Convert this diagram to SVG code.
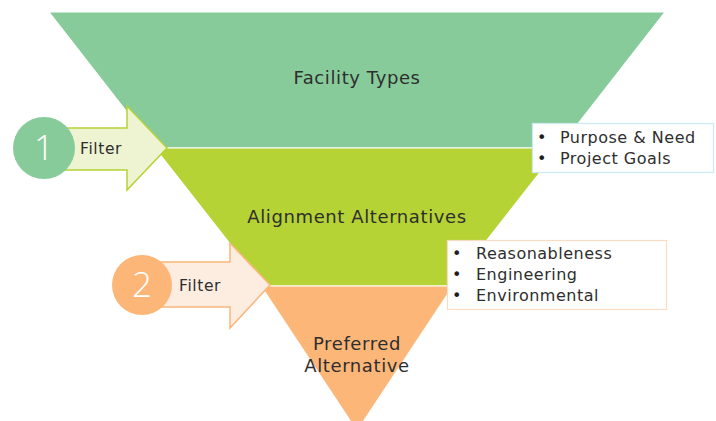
<svg xmlns="http://www.w3.org/2000/svg" width="716" height="421" viewBox="0 0 716 421">
  <style>
    text { font-family: "DejaVu Sans", "Open Sans", sans-serif; fill: #2e2e2e; }
    .band { stroke: #ffffff; stroke-width: 1.2; }
    .lbl { font-size: 18px; letter-spacing: 0.6px; text-anchor: middle; }
    .num { font-family: "Open Sans", "DejaVu Sans", sans-serif; font-size: 35px; fill: #ffffff; text-anchor: middle; font-weight: 300; }
    .flt { font-size: 15.5px; letter-spacing: 0.6px; }
    .item { font-size: 16px; letter-spacing: 0.5px; }
    .dot { font-size: 16px; fill: #1e1e1e; }
  </style>

  <!-- funnel bands -->
  <g id="facility-types">
    <polygon class="band" points="49,12 665,12 559,148 155,148" fill="#88cb9b"/>
    <text class="lbl" x="357" y="84">Facility Types</text>
  </g>
  <g id="alignment-alternatives">
    <polygon class="band" points="155,148 559,148 451,286 263,286" fill="#b5d334"/>
    <text class="lbl" x="357" y="223">Alignment Alternatives</text>
  </g>
  <g id="preferred-alternative">
    <polygon class="band" points="261,286 453,286 357,431" fill="#fbb678"/>
    <text class="lbl" x="357" y="350">Preferred</text>
    <text class="lbl" x="357" y="372">Alternative</text>
  </g>

  <!-- filter arrows pointing into the funnel -->
  <g id="connectors">
    <polygon points="50,128 127,128 127,106 167,148 127,190 127,170 50,170" fill="#eef3d2" stroke="#b5d334" stroke-width="1.5"/>
    <polygon points="150,262 230,262 230,243 270,285 230,328 230,307 150,307" fill="#fdece0" stroke="#fbb678" stroke-width="1.5"/>
  </g>

  <g id="filter-1">
    <circle cx="44" cy="148" r="31" fill="#88cb9b"/>
    <text class="num" x="44" y="160">1</text>
    <text class="flt" x="80" y="154">Filter</text>
  </g>
  <g id="filter-2">
    <circle cx="142" cy="285" r="30" fill="#fbb678"/>
    <text class="num" x="142" y="297">2</text>
    <text class="flt" x="179" y="291">Filter</text>
  </g>

  <!-- criteria boxes -->
  <g id="criteria-1">
    <rect x="532.5" y="123.5" width="181" height="49" fill="#ffffff" stroke="#cde9f2" stroke-width="1.2"/>
    <text class="dot" x="537" y="143">•</text>
    <text class="item" x="560" y="143">Purpose &amp; Need</text>
    <text class="dot" x="537" y="164">•</text>
    <text class="item" x="560" y="164">Project Goals</text>
  </g>
  <g id="criteria-2">
    <rect x="447.5" y="240.5" width="219" height="69" fill="#ffffff" stroke="#fadcc4" stroke-width="1.2"/>
    <text class="dot" x="452" y="259">•</text>
    <text class="item" x="476" y="259">Reasonableness</text>
    <text class="dot" x="452" y="280">•</text>
    <text class="item" x="476" y="280">Engineering</text>
    <text class="dot" x="452" y="301">•</text>
    <text class="item" x="476" y="301">Environmental</text>
  </g>
</svg>
